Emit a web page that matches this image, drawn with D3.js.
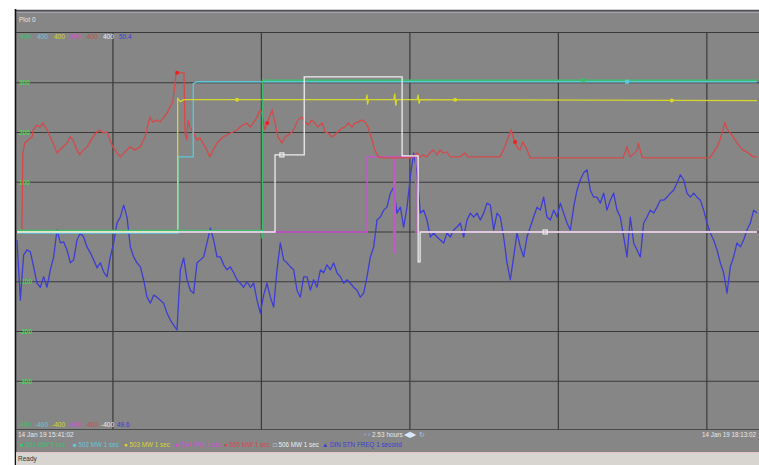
<!DOCTYPE html>
<html><head><meta charset="utf-8">
<script src="https://cdn.jsdelivr.net/npm/d3@7"></script>
<style>
html,body{margin:0;padding:0;background:#fff;overflow:hidden;}
svg{display:block;}
text{font-family:"Liberation Sans",Arial,sans-serif;}
</style></head><body>
<svg id="c" width="759" height="465"></svg>
<script>
// ---- trend window data ----
const plotTitle = "Plot 0";
const spanMin = 152;                       // minutes shown in the window
const startLabel = "14 Jan 19 15:41:02";
const endLabel = "14 Jan 19 18:13:02";
const spanLabel = "2.53 hours";
const gridStartMin = 19.7, gridStepMin = 30.5;

const mwGrid = [300, 200, 100, 0, -100, -200, -300];
const mwAxisLabels = ["300", "200", "100", "0", "-100", "-200", "-300"];

const penNames = ["501 MW 1 sec", "502 MW 1 sec", "503 MW 1 sec", "504 MW 1 sec", "505 MW 1 sec", "506 MW 1 sec", "DIN STN FREQ 1 second"];
const penSymbols = ["\u25A0", "\u25A0", "\u25CF", "\u25A0", "\u25CF", "\u25A1", "\u25B2"];
const penColors = ["#3fbd6c", "#5cc8da", "#d6d62c", "#d24fd2", "#d44a4a", "#eeeeee", "#3d3dd6"];
const penMax = ["400", "400", "400", "400", "400", "400", "50.4"];
const penMin = ["-400", "-400", "-400", "-400", "-400", "-400", "49.6"];

// MW pens: [minute, MW]
const mw501 = [[0,3],[50.3,3],[50.3,-12],[50.4,-12],[50.4,305],[152,305]];
const mw502 = [[0,-2],[33.1,-2],[33.1,151],[36.2,151],[36.2,298],[37.0,302],[152,302]];
const mw503 = [[0,1],[33.0,1],[33.0,268],[33.6,262],[34.2,266],[71.7,266],[71.9,276],[72.0,256],[72.2,266],
  [77.4,266],[77.6,278],[77.8,254],[78.0,266],[82.2,266],[82.4,276],[82.6,258],[82.8,266],[152,264]];
const mw504 = [[0,0],[71.9,0],[71.9,151],[77.4,151],[77.4,-42],[77.7,-42],[77.7,151],[81.9,151],[81.9,0],[152,0]];
const mw505 = [[0,-2],[1.0,-2],[1.2,159],[1.6,179],[2.3,185],[3.1,191],[3.3,205],[4.1,215],[4.7,211],[5.3,219],
  [6.2,205],[6.8,191],[7.4,179],[8.2,159],[8.8,165],[9.4,171],[10.3,179],[10.9,191],[11.5,185],[12.3,165],
  [12.9,155],[13.6,165],[14.4,171],[15.0,181],[15.6,191],[16.4,201],[17.0,205],[17.7,199],[18.5,201],[19.1,185],
  [19.7,171],[20.5,159],[21.2,151],[22.2,161],[23.2,171],[24.2,165],[25.3,171],[26.3,191],[27.3,231],[27.9,221],
  [28.8,225],[29.4,221],[30.0,229],[30.8,239],[31.4,251],[32.0,261],[32.7,320],[33.5,320],[34.3,320],[34.5,199],
  [34.9,185],[35.1,225],[35.5,211],[36.2,199],[37.0,185],[37.6,189],[38.2,179],[39.0,165],[39.6,151],[40.3,165],
  [41.1,179],[41.7,185],[42.3,191],[43.1,195],[43.8,199],[44.4,201],[45.2,205],[45.8,211],[46.4,215],[47.2,219],
  [47.9,211],[48.5,219],[49.3,231],[49.9,245],[50.3,239],[50.9,205],[51.6,225],[52.4,245],[53.0,219],[53.6,191],
  [54.4,179],[55.1,191],[55.7,195],[56.5,201],[57.1,211],[57.7,225],[58.5,231],[59.2,221],[59.8,215],[60.6,225],
  [61.2,219],[61.8,211],[62.7,219],[63.3,201],[63.9,199],[64.7,191],[65.3,195],[65.9,201],[66.8,209],[67.4,211],
  [68.0,219],[68.8,211],[69.4,219],[70.0,221],[70.9,225],[71.5,221],[72.1,211],[72.9,185],[73.5,165],[74.2,151],
  [75.2,149],[80.7,149],[81.3,151],[82.2,159],[82.8,151],[83.4,155],[84.2,151],[84.8,159],[85.5,165],[86.3,155],
  [86.9,165],[87.5,159],[88.3,161],[89.0,151],[91.0,151],[92.0,159],[92.6,151],[99.2,151],[100.2,171],[100.9,191],
  [101.5,205],[101.9,191],[102.7,171],[103.3,165],[103.9,181],[104.8,165],[105.4,149],[124.5,149],[125.3,171],
  [125.9,151],[127.0,160],[127.4,165],[127.6,179],[128.4,151],[129.0,149],[142.3,149],[143.0,159],[143.8,171],
  [144.4,185],[145.4,219],[146.0,205],[147.1,191],[147.9,179],[148.5,171],[149.1,165],[149.9,161],[151.2,151],[152,151]];
const mw506 = [[0,0],[53.0,0],[53.0,155],[59.0,155],[59.0,312],[79.1,312],[79.1,153],[82.4,153],[82.4,-60],[82.8,-60],[82.8,0],[152,0]];

// frequency pen, evenly sampled across the window (Hz)
const freqHz = [49.984,49.863,49.954,49.964,49.960,49.930,49.897,49.889,49.910,49.889,
  49.924,49.950,50.004,49.978,49.980,49.964,49.938,49.944,49.984,49.998,
  49.990,49.970,49.958,49.944,49.928,49.938,49.920,49.910,49.950,49.978,
  50.018,50.030,50.054,50.030,49.970,49.950,49.938,49.930,49.904,49.869,
  49.857,49.873,49.869,49.863,49.857,49.837,49.823,49.813,49.803,49.924,
  49.948,49.904,49.883,49.877,49.938,49.944,49.950,49.978,50.008,49.984,
  49.950,49.950,49.934,49.924,49.930,49.918,49.904,49.897,49.889,49.900,
  49.889,49.897,49.863,49.837,49.873,49.897,49.869,49.849,49.924,49.978,
  49.944,49.938,49.930,49.924,49.883,49.869,49.910,49.910,49.883,49.904,
  49.889,49.924,49.918,49.934,49.924,49.938,49.918,49.910,49.897,49.904,
  49.897,49.889,49.883,49.869,49.877,49.910,49.950,49.970,50.024,50.030,
  50.044,50.050,50.078,50.090,50.038,50.050,50.010,50.050,50.111,50.159,
  50.119,50.038,50.044,50.024,49.990,49.998,49.990,49.984,49.978,49.998,
  49.990,50.004,50.010,50.018,49.990,50.024,50.038,50.030,50.038,50.024,
  50.038,50.058,50.054,50.004,50.038,50.030,49.990,49.938,49.904,49.950,
  49.998,49.970,49.950,49.990,50.010,50.030,50.050,50.044,50.070,50.030,
  50.024,50.044,50.030,50.058,50.038,50.018,50.004,50.050,50.084,50.105,
  50.119,50.125,50.084,50.070,50.070,50.058,50.078,50.044,50.064,50.078,
  50.044,50.030,49.990,49.950,50.030,49.978,49.964,49.950,50.018,50.030,
  50.044,50.038,50.050,50.064,50.064,50.070,50.078,50.084,50.098,50.115,
  50.105,50.078,50.070,50.078,50.070,50.064,50.044,50.018,49.998,49.984,
  49.964,49.938,49.918,49.877,49.930,49.950,49.978,49.970,49.984,50.004,
  50.018,50.044,50.038];

// pen marker times (minutes)
const marks501 = [116.3];
const marks502 = [125.3];
const marks503 = [45.2, 90.0, 134.5];
const marks505 = [32.9, 51.4, 102.3];
const marks506 = [54.4, 108.5];

// ---- drawing ----
const svg = d3.select("#c");
const W = 759, H = 465;
const x = d3.scaleLinear().domain([0, spanMin]).range([17, 757]);
const yMW = d3.scaleLinear().domain([-400, 400]).range([431, 33]);
const yHz = d3.scaleLinear().domain([49.6, 50.4]).range([431, 33]);
const plotTop = 32.5, plotBottom = 429.5;

// window frame
svg.append("rect").attr("width", W).attr("height", H).attr("fill", "#ffffff");
svg.append("rect").attr("x", 16).attr("y", 10).attr("width", W - 16).attr("height", 442).attr("fill", "#868686");
svg.append("line").attr("x1", 16).attr("x2", W).attr("y1", 10.5).attr("y2", 10.5).attr("stroke", "#4e4e58").attr("stroke-width", 1.5);
svg.append("line").attr("x1", 16).attr("x2", W).attr("y1", 12.5).attr("y2", 12.5).attr("stroke", "#a2a2ae").attr("stroke-width", 1);
svg.append("line").attr("x1", 15.5).attr("x2", 15.5).attr("y1", 9).attr("y2", H).attr("stroke", "#111").attr("stroke-width", 1.6);

svg.append("text").attr("x", 19).attr("y", 22).attr("font-size", 6.5).attr("fill", "#e4e4e4").text(plotTitle);

// grid
const g = svg.append("g");
g.append("line").attr("x1", 16).attr("x2", W).attr("y1", plotTop).attr("y2", plotTop).attr("stroke", "#3a3a3a").attr("stroke-width", 1.2);
g.append("line").attr("x1", 16).attr("x2", W).attr("y1", plotBottom).attr("y2", plotBottom).attr("stroke", "#4a4a4a").attr("stroke-width", 1.2);
g.selectAll(".hg").data(mwGrid).join("line")
  .attr("x1", 16).attr("x2", W)
  .attr("y1", d => yMW(d)).attr("y2", d => yMW(d))
  .attr("stroke", "#3a3a3a").attr("stroke-width", 1.2);
const timeGrid = d3.range(gridStartMin, spanMin, gridStepMin);
g.selectAll(".vg").data(timeGrid).join("line")
  .attr("x1", d => x(d)).attr("x2", d => x(d))
  .attr("y1", plotTop).attr("y2", plotBottom)
  .attr("stroke", "#3a3a3a").attr("stroke-width", 1.2);

// left axis labels of the first pen
g.selectAll(".yl").data(mwGrid).join("text")
  .attr("x", 19).attr("y", d => yMW(d) + 2.3)
  .attr("font-size", 6.5).attr("font-weight", "bold").attr("fill", "#44d84c")
  .text((d, i) => mwAxisLabels[i]);

// pen scale labels (top = max, bottom = min)
const labelX = [20, 37, 54, 70, 87, 103, 119];
svg.selectAll(".mx").data(penMax).join("text")
  .attr("x", (d, i) => labelX[i]).attr("y", 39)
  .attr("font-size", 6.5).attr("fill", (d, i) => penColors[i]).text(d => d);
svg.selectAll(".mn").data(penMin).join("text")
  .attr("x", (d, i) => labelX[i] - 2).attr("y", 427)
  .attr("font-size", 6.5).attr("fill", (d, i) => penColors[i]).text(d => d);

// traces
svg.append("clipPath").attr("id", "pc").append("rect")
  .attr("x", 16).attr("y", plotTop).attr("width", W - 16).attr("height", plotBottom - plotTop);
const traces = svg.append("g").attr("clip-path", "url(#pc)");

const lineMW = d3.line().x(d => x(d[0])).y(d => yMW(d[1]));
const freqStep = spanMin / (freqHz.length - 1);
const lineHz = d3.line().x((d, i) => x(i * freqStep)).y(d => yHz(d));

traces.append("path").datum(freqHz).attr("d", lineHz)
  .attr("fill", "none").attr("stroke", penColors[6]).attr("stroke-width", 1.3).attr("stroke-linejoin", "round");

const mwPens = [[mw504, 3], [mw505, 4], [mw502, 1], [mw503, 2], [mw501, 0], [mw506, 5]];
mwPens.forEach(([data, idx]) => {
  traces.append("path").datum(data).attr("d", lineMW)
    .attr("fill", "none").attr("stroke", penColors[idx]).attr("stroke-width", 1.3);
});

// value of a pen at a given minute (linear between logged points)
function valueAt(data, t) {
  const i = d3.bisector(d => d[0]).right(data, t);
  if (i <= 0) return data[0][1];
  if (i >= data.length) return data[data.length - 1][1];
  const a = data[i - 1], b = data[i];
  if (b[0] === a[0]) return b[1];
  return a[1] + (b[1] - a[1]) * (t - a[0]) / (b[0] - a[0]);
}
function squares(times, data, color, hollow) {
  traces.selectAll(null).data(times).join("rect")
    .attr("x", t => x(t) - 2).attr("y", t => yMW(valueAt(data, t)) - 2)
    .attr("width", 4).attr("height", 4)
    .attr("fill", hollow ? "none" : color).attr("stroke", color).attr("stroke-width", hollow ? 1.2 : 0);
}
function dots(times, data, color) {
  traces.selectAll(null).data(times).join("circle")
    .attr("cx", t => x(t)).attr("cy", t => yMW(valueAt(data, t))).attr("r", 2).attr("fill", color);
}
squares(marks501, mw501, penColors[0], false);
squares(marks502, mw502, penColors[1], false);
dots(marks503, mw503, penColors[2]);
dots(marks505, mw505, "#ee2020");
squares(marks506, mw506, penColors[5], true);

// time row
svg.append("text").attr("x", 18).attr("y", 437).attr("font-size", 6.5).attr("fill", "#e8e8e8").text(startLabel);
svg.append("text").attr("x", 756).attr("y", 437).attr("text-anchor", "end").attr("font-size", 6.3).attr("fill", "#e8e8e8").text(endLabel);
const nav = svg.append("text").attr("x", 364).attr("y", 437).attr("font-size", 6.5);
nav.append("tspan").attr("fill", "#9fb4e8").text("\u2039 \u203A ");
nav.append("tspan").attr("fill", "#e8e8e8").text(spanLabel + " ");
nav.append("tspan").attr("fill", "#dfe8ff").attr("font-size", 7.5).text("\u25C0\u25B6 ");
nav.append("tspan").attr("fill", "#a8c0ff").text("\u21BB");

// pen legend
const legendX = [20, 73, 124, 175, 224, 273, 322];
const leg = svg.selectAll(".lg").data(penNames).join("text")
  .attr("x", (d, i) => legendX[i]).attr("y", 447)
  .attr("font-size", 6.3).attr("fill", (d, i) => penColors[i]);
leg.append("tspan").text((d, i) => penSymbols[i] + " ");
leg.append("tspan").text(d => d);

// status bar
svg.append("rect").attr("x", 16).attr("y", 452).attr("width", W - 16).attr("height", 13).attr("fill", "#d8d5d0");
svg.append("line").attr("x1", 16).attr("x2", W).attr("y1", 452.5).attr("y2", 452.5).attr("stroke", "#e6c4c4").attr("stroke-width", 1);
svg.append("text").attr("x", 18).attr("y", 461).attr("font-size", 6.5).attr("fill", "#333").text("Ready");
</script></body></html>
